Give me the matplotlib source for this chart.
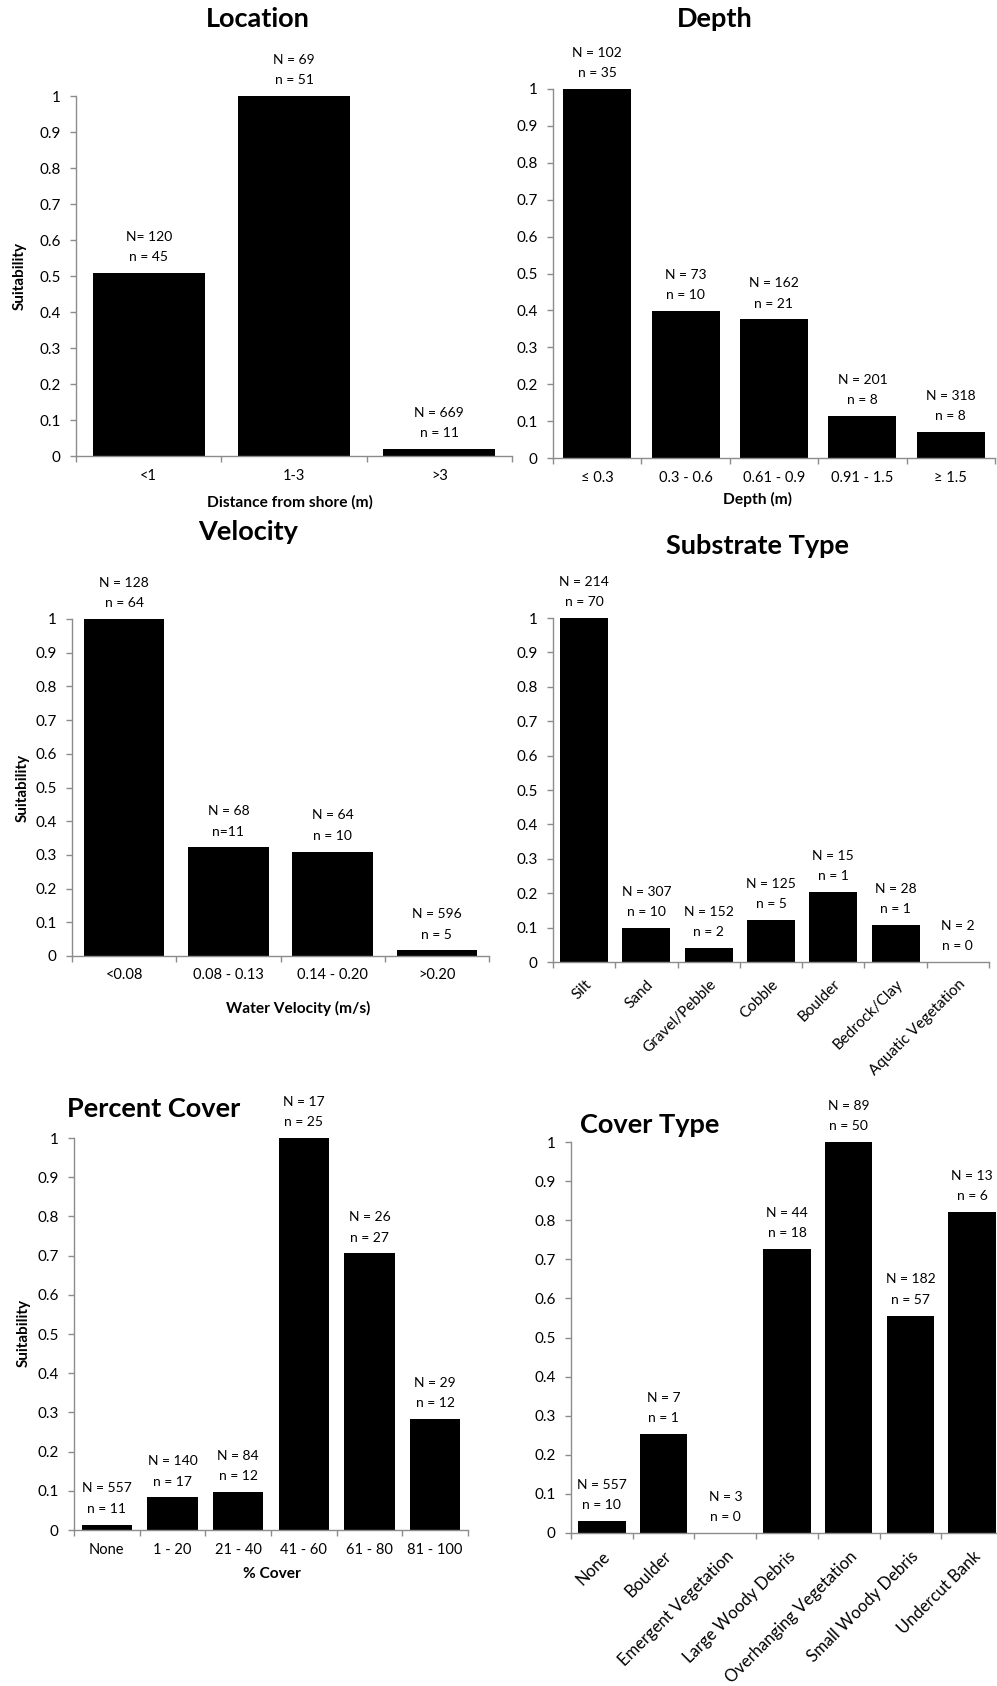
import numpy as np
import matplotlib
matplotlib.use('Agg')
import matplotlib.pyplot as plt
from matplotlib.ticker import FuncFormatter

plt.rcParams['font.family'] = ['Lato', 'DejaVu Sans']

# ---- data ----
location_cats = ['<1', '1-3', '>3']
location_vals = [0.508, 1.0, 0.02]
location_counts = ['N= 120\nn = 45', 'N = 69\nn = 51', 'N = 669\nn = 11']

depth_cats = ['\u2264 0.3', '0.3 - 0.6', '0.61 - 0.9', '0.91 - 1.5', '\u2265 1.5']
depth_vals = [1.0, 0.398, 0.376, 0.114, 0.071]
depth_counts = ['N = 102\nn = 35', 'N = 73\nn = 10', 'N = 162\nn = 21',
                'N = 201\nn = 8', 'N = 318\nn = 8']

velocity_cats = ['<0.08', '0.08 - 0.13', '0.14 - 0.20', '>0.20']
velocity_vals = [1.0, 0.322, 0.31, 0.017]
velocity_counts = ['N = 128\nn = 64', 'N = 68\nn=11', 'N = 64\nn = 10', 'N = 596\nn = 5']

substrate_cats = ['Silt', 'Sand', 'Gravel/Pebble', 'Cobble', 'Boulder',
                  'Bedrock/Clay', 'Aquatic Vegetation']
substrate_vals = [1.0, 0.099, 0.041, 0.122, 0.203, 0.108, 0.0]
substrate_counts = ['N = 214\nn = 70', 'N = 307\nn = 10', 'N = 152\nn = 2',
                    'N = 125\nn = 5', 'N = 15\nn = 1', 'N = 28\nn = 1', 'N = 2\nn = 0']

pcover_cats = ['None', '1 - 20', '21 - 40', '41 - 60', '61 - 80', '81 - 100']
pcover_vals = [0.014, 0.083, 0.097, 1.0, 0.706, 0.283]
pcover_counts = ['N = 557\nn = 11', 'N = 140\nn = 17', 'N = 84\nn = 12',
                 'N = 17\nn = 25', 'N = 26\nn = 27', 'N = 29\nn = 12']

ctype_cats = ['None', 'Boulder', 'Emergent Vegetation', 'Large Woody Debris',
              'Overhanging Vegetation', 'Small Woody Debris', 'Undercut Bank']
ctype_vals = [0.031, 0.253, 0.0, 0.726, 1.0, 0.556, 0.821]
ctype_counts = ['N = 557\nn = 10', 'N = 7\nn = 1', 'N = 3\nn = 0', 'N = 44\nn = 18',
                'N = 89\nn = 50', 'N = 182\nn = 57', 'N = 13\nn = 6']

W, H = 997, 1686
AXIS_GREY = '#8c8c8c'
TEXT_COL = '#000000'

fig = plt.figure(figsize=(W / 100, H / 100), dpi=100)


def px_axes(x0, x1, y_top, y_bot):
    # axes from pixel box (y measured from top of image)
    return fig.add_axes([x0 / W, 1 - y_bot / H, (x1 - x0) / W, (y_bot - y_top) / H])


def draw_panel(ax, cats, vals, counts, rot_size=None):
    x = np.arange(len(cats))
    ax.bar(x, vals, width=0.77, color='black', linewidth=0)
    ax.set_xlim(-0.5, len(cats) - 0.5)
    ax.set_ylim(0, 1)
    ax.set_yticks(np.arange(0, 1.01, 0.1))
    ax.yaxis.set_major_formatter(FuncFormatter(lambda v, p: f'{v:g}'))
    ax.set_xticks(x)
    if rot_size:
        # slanted category names, right end tucked under the bar
        ax.set_xticklabels(cats, rotation=45, ha='right', rotation_mode='anchor')
        ax.tick_params(axis='x', which='major', length=0, pad=11, labelsize=rot_size)
    else:
        ax.set_xticklabels(cats)
        ax.tick_params(axis='x', which='major', length=0, pad=9, labelsize=10.5)
    # excel style tick marks sit between the categories
    ax.set_xticks(np.arange(-0.5, len(cats)), minor=True)
    ax.tick_params(axis='x', which='minor', length=4, width=1, color=AXIS_GREY)
    ax.tick_params(axis='y', length=4, width=1, color=AXIS_GREY, pad=7, labelsize=11)
    ax.tick_params(labelcolor=TEXT_COL)
    for side in ['top', 'right']:
        ax.spines[side].set_visible(False)
    for side in ['left', 'bottom']:
        ax.spines[side].set_color(AXIS_GREY)
        ax.spines[side].set_linewidth(1)
    # sample sizes above each bar
    for xi, v, t in zip(x, vals, counts):
        ax.annotate(t, (xi, v), xytext=(0, 7), textcoords='offset points',
                    ha='center', va='bottom', fontsize=10, linespacing=1.85,
                    color=TEXT_COL)


def fig_text(xp, yp, s, **kw):
    fig.text(xp / W, 1 - yp / H, s, va='center', color=TEXT_COL, **kw)


TITLE = dict(fontsize=19.5, fontweight='bold')
XLAB = dict(fontsize=11.2, fontweight='bold')
YLAB = dict(ha='center', rotation=90, fontsize=11, fontweight='bold')

# Location
ax1 = px_axes(76, 512, 96, 456)
draw_panel(ax1, location_cats, location_vals, location_counts)
fig_text(258, 19, 'Location', ha='center', **TITLE)
fig_text(290, 502, 'Distance from shore (m)', ha='center', **XLAB)
fig_text(20, 276, 'Suitability', **YLAB)

# Depth
ax2 = px_axes(553, 995, 89, 458)
draw_panel(ax2, depth_cats, depth_vals, depth_counts)
fig_text(715, 19, 'Depth', ha='center', **TITLE)
fig_text(757, 499, 'Depth (m)', ha='center', **XLAB)

# Velocity
ax3 = px_axes(72, 489, 619, 956)
draw_panel(ax3, velocity_cats, velocity_vals, velocity_counts)
fig_text(248, 532, 'Velocity', ha='center', **TITLE)
fig_text(298, 1008, 'Water Velocity (m/s)', ha='center', **XLAB)
fig_text(23, 788, 'Suitability', **YLAB)

# Substrate Type
ax4 = px_axes(553, 989, 618, 962)
draw_panel(ax4, substrate_cats, substrate_vals, substrate_counts, rot_size=11)
fig_text(757, 546, 'Substrate Type', ha='center', **TITLE)

# Percent Cover
ax5 = px_axes(74, 468, 1138, 1530)
draw_panel(ax5, pcover_cats, pcover_vals, pcover_counts)
fig_text(67, 1109, 'Percent Cover', ha='left', **TITLE)
fig_text(272, 1574, '% Cover', ha='center', **XLAB)
fig_text(24, 1333, 'Suitability', **YLAB)

# Cover Type (plot area runs slightly past the right edge in the reference)
ax6 = px_axes(571, 1003, 1142, 1533)
draw_panel(ax6, ctype_cats, ctype_vals, ctype_counts, rot_size=12)
fig_text(580, 1125, 'Cover Type', ha='left', **TITLE)

fig.savefig('out.png', dpi=100)
